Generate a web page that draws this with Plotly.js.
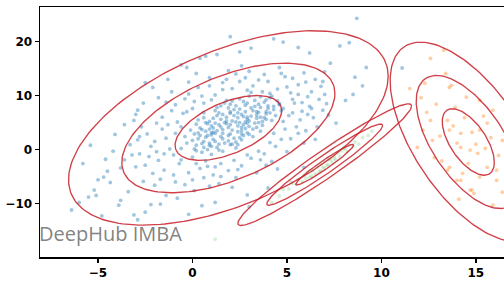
<!DOCTYPE html>
<html>
<head>
<meta charset="utf-8">
<script src="https://cdn.plot.ly/plotly-3.0.1.min.js"></script>
<style>html,body{margin:0;padding:0;background:#fff;}#chart{width:504px;height:284px;}</style>
</head>
<body>
<div id="chart"></div>
<script>
// ---- Data ----
// Blue cluster points
const blueX = [1.9,2.5,1.2,3.1,0.6,2.8,1.5,3.6,0.2,2.2,1.0,3.3,2.0,0.8,4.0,1.7,2.6,0.1,3.8,1.4,2.9,0.5,2.4,1.1,3.5,-0.3,2.1,4.3,1.6,0.9,3.0,2.3,-0.1,1.3,3.9,2.7,0.4,1.8,3.2,1.0,2.0,4.4,0.7,2.5,1.5,3.4,-0.6,2.9,0.3,1.9,4.1,1.2,2.6,3.7,0.0,2.2,1.4,3.0,0.8,2.4,3.6,1.7,-0.4,2.8,1.1,4.6,0.6,2.0,3.3,1.6,2.7,0.2,3.9,1.3,2.3,4.2,0.9,2.1,3.4,1.8,
4.5,5.6,3.2,6.1,4.9,2.5,5.2,6.8,3.8,4.1,5.9,3.0,6.5,4.6,2.1,5.4,6.2,7.0,5.1,5.8,4.9,6.4,5.5,4.7,6.9,5.2,6.0,4.4,7.2,5.0,3.1,3.8,2.6,4.2,1.9,3.4,2.3,4.5,1.5,2.9,0.4,-0.7,1.1,-1.5,0.0,-2.1,-0.9,1.4,-1.8,0.7,-2.6,-0.2,-3.0,0.9,-1.2,-2.0,-1.6,-2.8,-0.8,-3.3,-1.0,-2.4,-0.5,-1.9,-3.6,-1.3,-2.7,0.0,-0.9,0.6,1.2,-0.4,0.3,1.6,-1.1,0.9,1.9,-0.2,1.0,2.6,0.2,
-4.5,-5.2,-3.8,-2.2,-0.8,1.2,2.9,-6.4,-5.8,-4.1,-3.0,-1.8,-2.5,-0.6,1.3,3.1,4.3,4.8,6.2,7.8,8.3,8.7,7.3,8.6,9.0,8.1,7.6,6.5,5.9,4.0,9.2,2.0,-4.8,-2.9,-5.4,
-5.5,-5.1,-4.7,-4.35,-3.9,-2.5,-1.7,-0.2,0.4,-0.3,-2.1,-2.9,-3.1,11.1,
1.4,2.9,0.7,2.1,3.5,1.0,2.5,0.3,3.2,1.8,2.6,1.2,3.9,0.5,2.0,4.5,1.6,2.8,0.9,3.4,2.3,1.5,3.7,0.1,2.7,1.9,4.1,1.1,2.4,3.0,
5.3,4.8,-1.4,-0.6,0.8,3.6,5.7,6.3,4.0,1.6,-0.3,-2.3,2.2,4.3,5.9,-1.6,0.5,3.1,6.6,-2.9,
1.3,2.4,0.6,3.0,1.9,2.8,0.4,3.6,1.5,2.2,1.0,3.3,2.6,0.0,4.0,1.7,2.9,0.8,3.5,2.0,1.2,3.8,0.5,2.5,1.6,3.1,0.2,2.3,4.3,1.0,2.7,1.4,3.4,0.7,2.1,1.8,3.9,0.9,2.6,1.3,3.2,2.0,0.3,4.7,1.1,2.4,3.6,1.6,2.9,0.6,
5.0,4.2,6.0,3.5,5.6,2.8,6.7,4.6,5.3,6.1,4.8,5.6,4.1,3.5,2.4,1.2,0.2,-1.0,-1.7,-0.4,0.6,-2.5,-3.2,-1.5,-2.2,-0.9,-1.9,-2.8,-0.6,-1.1,-0.2,0.9,1.8,0.1,-1.4,2.9,3.7,4.7,2.3,5.8,6.3,7.1,6.9,1.5,3.9,-3.8,-2.0,0.1,-4.2,5.3,
-5.0,-3.4,-1.4,0.5,2.1,-4.6,-3.6,-2.6,-1.3,0.7,2.5,5.6,7.0,8.5,3.0,-6.0,-3.1];
const blueY = [4.1,5.0,3.0,6.2,1.5,3.9,5.6,7.8,0.8,2.1,4.4,4.9,7.0,2.6,8.1,1.2,6.5,2.9,5.9,6.8,8.6,-0.5,3.3,1.9,6.9,1.2,5.3,7.4,3.7,5.2,2.8,8.1,3.6,0.4,9.2,4.6,4.0,6.0,7.2,-0.9,0.9,6.3,3.4,9.4,2.4,4.1,0.2,5.6,2.0,7.7,9.6,4.9,1.8,5.2,-1.4,6.3,1.0,9.9,0.0,4.4,3.4,8.6,2.4,7.0,3.2,8.5,5.9,2.9,8.0,-0.3,2.6,4.7,6.6,6.3,0.3,5.4,1.2,9.0,5.8,4.8,
11.2,12.0,11.8,9.8,13.5,12.6,10.5,11.7,13.9,10.4,14.2,14.5,13.0,15.2,11.3,8.6,8.0,10.2,6.3,7.1,3.8,5.9,4.2,1.9,7.3,2.0,3.5,0.6,6.4,-0.4,-1.6,-0.8,-3.0,-2.2,-3.9,-4.3,-5.2,-3.6,-2.6,-1.0,-3.5,-2.6,-4.7,-3.8,-5.6,-4.4,-6.0,-6.3,-2.0,-2.1,-5.9,-4.3,-3.2,-6.8,0.1,1.5,3.8,-0.8,5.1,0.9,-1.0,2.9,6.7,-0.4,-1.9,4.6,4.2,7.6,8.3,8.6,10.1,9.4,11.5,12.4,10.7,13.3,14.6,12.5,9.2,15.5,14.1,
-4.0,-7.5,-9.4,-10.2,-9.0,-9.8,-8.4,-11.2,-2.6,2.8,6.5,9.6,12.4,15.7,17.6,18.8,20.5,19.9,17.9,19.2,19.8,24.3,16.0,13.4,11.8,9.1,4.9,1.9,-3.3,-7.1,15.2,20.9,-12.3,-13.0,0.8,
-8.8,-8.5,-5.1,-6.1,-10.3,-11.6,-10.1,-12.0,16.9,15.2,11.5,7.3,5.4,15.1,
4.6,6.0,2.3,3.6,8.4,0.6,7.5,3.1,3.8,5.3,2.9,7.2,7.0,1.1,4.6,9.0,2.0,5.1,3.8,6.4,1.4,8.1,4.5,0.1,8.9,2.6,6.8,5.8,5.9,4.3,
9.3,7.6,2.1,-1.9,-3.1,-1.9,5.5,10.7,12.6,11.1,7.0,-1.3,-2.0,3.0,1.2,6.0,9.9,10.6,4.2,1.8,
3.5,6.8,0.4,5.3,1.6,8.2,2.6,6.0,4.2,7.4,2.7,9.1,3.5,1.7,7.6,5.0,4.9,4.8,5.0,8.4,1.5,8.8,3.7,2.2,6.5,7.7,-0.2,5.1,8.0,3.1,6.1,-0.1,7.0,5.0,1.0,9.1,5.6,0.8,4.1,7.8,2.4,6.7,5.5,7.2,4.0,0.9,9.8,3.0,3.1,6.8,
11.6,9.9,12.5,12.9,10.2,13.3,9.3,8.3,6.8,6.5,5.2,3.0,1.3,-0.3,-3.7,-3.2,-2.6,-4.7,-5.5,-6.5,-5.2,-2.9,-1.0,-0.8,0.6,3.0,4.9,2.4,4.2,7.2,10.3,11.8,13.0,8.9,8.8,11.0,10.7,14.1,14.0,8.7,7.6,8.5,12.6,-5.0,-2.9,-3.4,-6.6,-7.6,-0.3,13.2,
-5.6,-7.8,-8.5,-10.4,-7.0,-1.8,4.6,8.6,13.0,17.3,18.1,18.9,14.4,10.2,-10.6,-9.8,-12.1];

// Orange cluster points
const orangeX = [12.6,13.3,12.3,13.7,14.5,15.2,12.4,12.6,13.5,13.6,14.2,14.8,15.2,15.6,12.2,11.9,12.7,14.2,14.7,15.1,13.6,13.5,14.3,14.0,14.8,14.9,15.6,16.1,16.4,15.9,11.5,13.6,14.2,14.7,16.4,16.1,15.2,12.9,13.9,15.4,14.4,13.1,15.8,14.0,12.8,13.2,15.0,16.2,14.6,13.8,15.5,12.1,14.1,15.9,13.4];
const orangeY = [16.9,18.4,12.3,11.9,9.7,9.1,6.9,5.4,5.4,3.6,3.0,3.2,3.6,4.9,3.6,0.4,1.7,0.4,-0.1,-0.7,-3.3,-3.8,-4.4,-5.7,-7.5,-8.1,-3.3,-3.8,1.7,7.3,11.3,11.5,-5.7,-7.5,-7.9,-5.7,-5.1,8.4,7.8,6.2,5.9,2.5,2.2,1.2,-1.5,-2.1,1.0,-1.1,-2.6,4.4,0.2,9.6,-9.2,-10.3,14.1];

// Green cluster points
const greenX = [4.2,4.6,4.8,5.1,5.3,5.5,5.6,5.8,5.9,6.0,6.1,6.2,6.3,6.4,6.5,6.6,6.7,6.8,6.8,6.9,7.0,7.0,7.1,7.2,7.2,7.3,7.4,7.5,7.6,7.7,7.8,7.9,8.0,8.2,8.3,8.5,8.6,8.8,9.0,9.3,9.5,6.3,7.5,5.2,8.1,1.2];
const greenY = [-9.8,-8.6,-7.4,-7.3,-6.2,-6.5,-5.6,-5.9,-4.8,-5.3,-4.2,-5.1,-4.9,-3.8,-4.5,-3.2,-4.1,-2.7,-3.9,-3.3,-2.2,-3.4,-2.9,-1.8,-2.8,-1.9,-2.4,-1.2,-1.9,-0.6,-1.3,-0.2,0.2,-0.4,0.8,0.6,1.4,1.0,2.2,2.6,3.4,-3.9,-1.7,-6.0,0.1,-16.6];

// Gaussian mixture components (mean and covariance)
const compMeanX = [1.9, 7.0, 14.6];
const compMeanY = [4.0, -2.8, 1.4];
const compCovXX = [7.95, 2.35, 1.9];
const compCovXY = [9.0, 5.55, -5.2];
const compCovYY = [36.0, 14.1, 38.0];
const sigmaLevels = [1, 2, 3];

// Axis ticks
const xTicks = [-5, 0, 5, 10, 15];
const yTicks = [-10, 0, 10, 20];

// ---- Traces ----
const traces = [];
const mk = (c, op) => ({size: 3.8, color: c, opacity: op, line: {width: 0}});
traces.push({type: 'scatter', mode: 'markers', x: greenX, y: greenY, marker: mk('#2ca02c', 0.18), hoverinfo: 'skip'});
traces.push({type: 'scatter', mode: 'markers', x: blueX, y: blueY, marker: mk('#1f77b4', 0.42), hoverinfo: 'skip'});
traces.push({type: 'scatter', mode: 'markers', x: orangeX, y: orangeY, marker: mk('#ff7f0e', 0.38), hoverinfo: 'skip'});

for (let k = 0; k < compMeanX.length; k++) {
  const l11 = Math.sqrt(compCovXX[k]);
  const l21 = compCovXY[k] / l11;
  const l22 = Math.sqrt(compCovYY[k] - l21 * l21);
  sigmaLevels.forEach(n => {
    const ex = [], ey = [];
    for (let i = 0; i <= 200; i++) {
      const t = 2 * Math.PI * i / 200;
      const c = Math.cos(t), s = Math.sin(t);
      ex.push(compMeanX[k] + n * l11 * c);
      ey.push(compMeanY[k] + n * (l21 * c + l22 * s));
    }
    traces.push({type: 'scatter', mode: 'lines', x: ex, y: ey,
      line: {color: 'rgba(200,30,40,0.85)', width: 1.35}, hoverinfo: 'skip'});
  });
}

const tickFont = {family: 'DejaVu Sans', size: 12, weight: 'bold', color: '#000'};
const layout = {
  width: 504, height: 284,
  margin: {l: 40, r: 0, t: 7, b: 27, pad: 0},
  paper_bgcolor: '#fff', plot_bgcolor: '#fff',
  showlegend: false,
  xaxis: {range: [-8.07, 16.49], tickvals: xTicks, showgrid: false, zeroline: false,
    showline: true, mirror: true, linecolor: '#000', linewidth: 1.5,
    ticks: 'outside', ticklen: 4, tickwidth: 1.3, tickcolor: '#000', tickfont: tickFont},
  yaxis: {range: [-19.9, 26.4], tickvals: yTicks, showgrid: false, zeroline: false,
    showline: true, linecolor: '#000', linewidth: 1.5,
    ticks: 'outside', ticklen: 4, tickwidth: 1.3, tickcolor: '#000', tickfont: tickFont},
  annotations: [{text: 'DeepHub IMBA', xref: 'paper', yref: 'paper', x: 0, y: 0.094,
    xanchor: 'left', yanchor: 'middle', xshift: -3, showarrow: false,
    font: {family: 'Open Sans', size: 20, weight: 500, color: 'rgba(115,115,115,0.9)'}}]
};

Plotly.newPlot('chart', traces, layout, {staticPlot: true, displayModeBar: false});
</script>
</body>
</html>
